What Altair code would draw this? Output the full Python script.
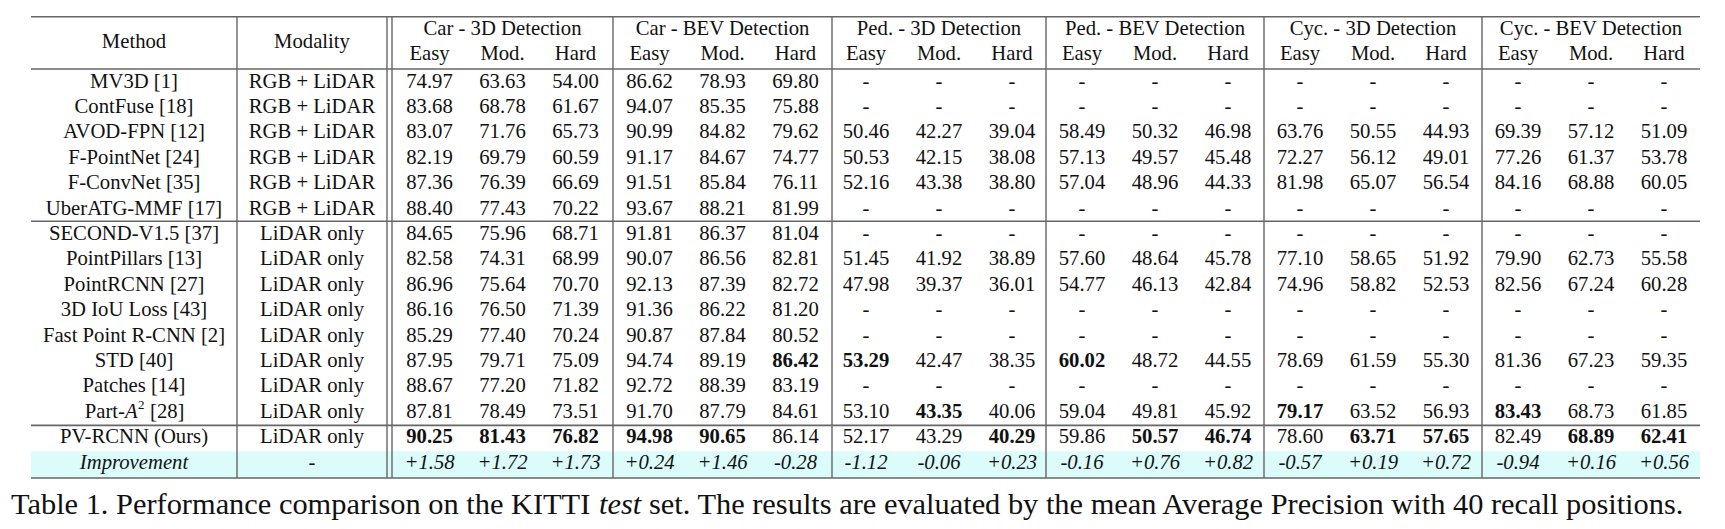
import altair as alt
import pandas as pd

# ---------------- data ----------------
methods = ["MV3D [1]", "ContFuse [18]", "AVOD-FPN [12]", "F-PointNet [24]", "F-ConvNet [35]",
           "UberATG-MMF [17]", "SECOND-V1.5 [37]", "PointPillars [13]", "PointRCNN [27]",
           "3D IoU Loss [43]", "Fast Point R-CNN [2]", "STD [40]", "Patches [14]",
           "Part-A\u00b2 [28]", "PV-RCNN (Ours)"]
modality = ["RGB + LiDAR"] * 6 + ["LiDAR only"] * 9
groups = ["Car - 3D Detection", "Car - BEV Detection", "Ped. - 3D Detection",
          "Ped. - BEV Detection", "Cyc. - 3D Detection", "Cyc. - BEV Detection"]
levels = ["Easy", "Mod.", "Hard"]

car_3d = [[74.97, 63.63, 54.00], [83.68, 68.78, 61.67], [83.07, 71.76, 65.73], [82.19, 69.79, 60.59],
          [87.36, 76.39, 66.69], [88.40, 77.43, 70.22], [84.65, 75.96, 68.71], [82.58, 74.31, 68.99],
          [86.96, 75.64, 70.70], [86.16, 76.50, 71.39], [85.29, 77.40, 70.24], [87.95, 79.71, 75.09],
          [88.67, 77.20, 71.82], [87.81, 78.49, 73.51], [90.25, 81.43, 76.82]]
car_bev = [[86.62, 78.93, 69.80], [94.07, 85.35, 75.88], [90.99, 84.82, 79.62], [91.17, 84.67, 74.77],
           [91.51, 85.84, 76.11], [93.67, 88.21, 81.99], [91.81, 86.37, 81.04], [90.07, 86.56, 82.81],
           [92.13, 87.39, 82.72], [91.36, 86.22, 81.20], [90.87, 87.84, 80.52], [94.74, 89.19, 86.42],
           [92.72, 88.39, 83.19], [91.70, 87.79, 84.61], [94.98, 90.65, 86.14]]
ped_3d = [None, None, [50.46, 42.27, 39.04], [50.53, 42.15, 38.08], [52.16, 43.38, 38.80], None, None,
          [51.45, 41.92, 38.89], [47.98, 39.37, 36.01], None, None, [53.29, 42.47, 38.35], None,
          [53.10, 43.35, 40.06], [52.17, 43.29, 40.29]]
ped_bev = [None, None, [58.49, 50.32, 46.98], [57.13, 49.57, 45.48], [57.04, 48.96, 44.33], None, None,
           [57.60, 48.64, 45.78], [54.77, 46.13, 42.84], None, None, [60.02, 48.72, 44.55], None,
           [59.04, 49.81, 45.92], [59.86, 50.57, 46.74]]
cyc_3d = [None, None, [63.76, 50.55, 44.93], [72.27, 56.12, 49.01], [81.98, 65.07, 56.54], None, None,
          [77.10, 58.65, 51.92], [74.96, 58.82, 52.53], None, None, [78.69, 61.59, 55.30], None,
          [79.17, 63.52, 56.93], [78.60, 63.71, 57.65]]
cyc_bev = [None, None, [69.39, 57.12, 51.09], [77.26, 61.37, 53.78], [84.16, 68.88, 60.05], None, None,
           [79.90, 62.73, 55.58], [82.56, 67.24, 60.28], None, None, [81.36, 67.23, 59.35], None,
           [83.43, 68.73, 61.85], [82.49, 68.89, 62.41]]
improvement = [1.58, 1.72, 1.73, 0.24, 1.46, -0.28, -1.12, -0.06, 0.23,
               -0.16, 0.76, 0.82, -0.57, 0.19, 0.72, -0.94, 0.16, 0.56]
caption_parts = ["Table 1. Performance comparison on the KITTI", "test",
                 "set. The results are evaluated by the mean Average Precision with 40 recall positions."]

# ---------------- layout (page pixels) ----------------
FONT = "Liberation Serif"
FS = 20.7
CAP_FS = 30.4
INK = "#111111"
LINE = "#666666"
TABLE_L, TABLE_R = 31, 1700
METHOD_SEP = 237
DOUBLE_SEP = (387, 392)
GROUP_EDGES = [392, 613, 832, 1046, 1264, 1482, 1700]
SUB_STEP = 73
Y_TOP, Y_HEAD, Y_BOTTOM = 16.7, 69, 478
Y_GROUP, Y_LEVEL, Y_TITLE = 29, 54, 42
ROW0, ROW_H = 81.5, 25.4
CAP_Y = 505
CAP_X = [11, 599, 649]

xs = alt.Scale(domain=[8, 1717], nice=False, zero=False)
ys = alt.Scale(domain=[8, 521], nice=False, zero=False, reverse=True)

method_x = (TABLE_L + METHOD_SEP) / 2
modal_x = (METHOD_SEP + DOUBLE_SEP[0]) / 2
group_c = [(GROUP_EDGES[i] + GROUP_EDGES[i + 1]) / 2 for i in range(6)]
def row_y(i):
    return ROW0 + i * ROW_H

all_groups = [car_3d, car_bev, ped_3d, ped_bev, cyc_3d, cyc_bev]
lidar_rows = [i for i, m in enumerate(modality) if m == "LiDAR only"]

regular, bold, italic = [], [], []
# headers
regular.append(dict(x=method_x, y=Y_TITLE, text="Method"))
regular.append(dict(x=modal_x, y=Y_TITLE, text="Modality"))
for g, name in enumerate(groups):
    regular.append(dict(x=group_c[g], y=Y_GROUP, text=name))
    for k, lv in enumerate(levels):
        regular.append(dict(x=group_c[g] + (k - 1) * SUB_STEP, y=Y_LEVEL, text=lv))
# body
for i, (m, mod) in enumerate(zip(methods, modality)):
    if not m.startswith("Part-"):
        regular.append(dict(x=method_x, y=row_y(i), text=m))
    regular.append(dict(x=modal_x, y=row_y(i), text=mod))
for g, grp in enumerate(all_groups):
    for k in range(3):
        best = max(grp[r][k] for r in lidar_rows if grp[r] is not None)
        for i, row in enumerate(grp):
            x = group_c[g] + (k - 1) * SUB_STEP
            if row is None:
                regular.append(dict(x=x, y=row_y(i), text="-"))
            else:
                d = dict(x=x, y=row_y(i), text=f"{row[k]:.2f}")
                (bold if (i in lidar_rows and row[k] == best) else regular).append(d)
# improvement row
n = len(methods)
italic.append(dict(x=method_x, y=row_y(n), text="Improvement"))
regular.append(dict(x=modal_x, y=row_y(n), text="-"))
for j, v in enumerate(improvement):
    g, k = divmod(j, 3)
    italic.append(dict(x=group_c[g] + (k - 1) * SUB_STEP, y=row_y(n), text=f"{v:+.2f}"))

pi = methods.index("Part-A\u00b2 [28]")
part_df = pd.DataFrame([dict(x=method_x, y=row_y(pi))])

def text_layer(rows, **kw):
    return alt.Chart(pd.DataFrame(rows)).mark_text(
        font=FONT, fontSize=FS, color=INK, baseline="middle", **kw
    ).encode(x=alt.X("x:Q", scale=xs, axis=None), y=alt.Y("y:Q", scale=ys, axis=None), text="text:N")

# lines
hlines = pd.DataFrame(dict(
    x=[TABLE_L] * 5, x2=[TABLE_R] * 5,
    y=[Y_TOP, Y_HEAD, (row_y(5) + row_y(6)) / 2, (row_y(13) + row_y(14)) / 2 + 1, Y_BOTTOM]))
vx = [METHOD_SEP, DOUBLE_SEP[0], DOUBLE_SEP[1]] + GROUP_EDGES[1:-1]
vlines = pd.DataFrame(dict(x=vx, y=[Y_TOP] * len(vx), y2=[Y_BOTTOM] * len(vx)))
bg = pd.DataFrame(dict(x=[TABLE_L], x2=[TABLE_R], y=[(row_y(n - 1) + row_y(n)) / 2 + 1.5], y2=[Y_BOTTOM]))

bg_layer = alt.Chart(bg).mark_rect(color="#dcfcfc").encode(
    x=alt.X("x:Q", scale=xs, axis=None), x2="x2:Q",
    y=alt.Y("y:Q", scale=ys, axis=None), y2="y2:Q")
h_layer = alt.Chart(hlines).mark_rule(color=LINE, strokeWidth=1.6).encode(
    x=alt.X("x:Q", scale=xs, axis=None), x2="x2:Q", y=alt.Y("y:Q", scale=ys, axis=None))
v_layer = alt.Chart(vlines).mark_rule(color=LINE, strokeWidth=1.4).encode(
    x=alt.X("x:Q", scale=xs, axis=None), y=alt.Y("y:Q", scale=ys, axis=None), y2="y2:Q")

# Part-A^2 [28] with italic A and superscript 2
pa_base = alt.Chart(part_df).encode(x=alt.X("x:Q", scale=xs, axis=None), y=alt.Y("y:Q", scale=ys, axis=None))
pa1 = pa_base.mark_text(font=FONT, fontSize=FS, color=INK, baseline="middle", align="right", dx=-9, text="Part-")
pa2 = pa_base.mark_text(font=FONT, fontSize=FS, color=INK, baseline="middle", align="left", dx=-9,
                        fontStyle="italic", text="A")
pa3 = pa_base.mark_text(font=FONT, fontSize=13, color=INK, baseline="middle", align="left", dx=4, dy=-7, text="2")
pa4 = pa_base.mark_text(font=FONT, fontSize=FS, color=INK, baseline="middle", align="left", dx=16, text="[28]")

cap = pd.DataFrame(dict(x=CAP_X, y=[CAP_Y] * 3, text=caption_parts, style=["n", "i", "n"]))
cap_base = alt.Chart(cap).encode(x=alt.X("x:Q", scale=xs, axis=None), y=alt.Y("y:Q", scale=ys, axis=None), text="text:N")
cap_n = cap_base.mark_text(font=FONT, fontSize=CAP_FS, color=INK, baseline="middle", align="left").transform_filter("datum.style == 'n'")
cap_i = cap_base.mark_text(font=FONT, fontSize=CAP_FS, color=INK, baseline="middle", align="left",
                           fontStyle="italic").transform_filter("datum.style == 'i'")

chart = alt.layer(
    bg_layer, h_layer, v_layer,
    text_layer(regular, align="center"),
    text_layer(bold, align="center", fontWeight="bold"),
    text_layer(italic, align="center", fontStyle="italic"),
    pa1, pa2, pa3, pa4, cap_n, cap_i,
).properties(width=1709, height=513, padding=0, autosize="none",
             background="white").configure_view(stroke=None)

chart.save("out.html", embed_options={"renderer": "svg", "actions": False})
